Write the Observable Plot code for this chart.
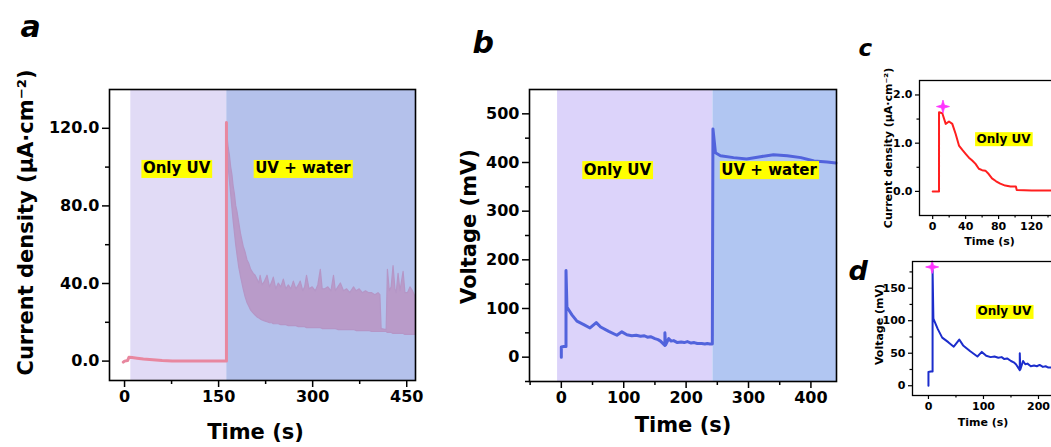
<!DOCTYPE html>
<html><head><meta charset="utf-8">
<script src="https://cdn.jsdelivr.net/npm/d3@7"></script>
<script src="https://cdn.jsdelivr.net/npm/@observablehq/plot@0.6"></script>
<style>
html,body{margin:0;padding:0;background:#fff;overflow:hidden;}
#fig{position:relative;width:1051px;height:447px;overflow:hidden;}
#fig svg{position:absolute;left:0;top:0;}
</style></head><body><div id="fig"></div>
<script>
// ---------- Panel a: current density (µA·cm⁻²) ----------
const aLineTime = [-2, 0, 5, 7, 12, 20, 30, 45, 60, 76, 100, 130, 162.5, 162.5];
const aLineVal  = [-0.5, 0, 0.3, 2.0, 1.8, 1.5, 1.1, 0.7, 0.3, 0, 0, 0, 0, 123];
const aBandTime = [162.5,164,166,168,170,172,174,176,178,180,183,186,190,193,196,199,202,206,209,212,215,217,220,224,228,232,236,238,242,246,250,254,258,262,266,270,274,278,281,285,288,291,295,300,305,309,313,316,320,325,330,334,337,341,345,350,355,360,366,370,375,380,385,390,395,400,405,408,410,418,420,423,426,429,432,434,437,440,445,448,452,456,460,464];
const aBandHigh = [123,116,110,106,100,96,90,86,80,77,71,65,59,56,52,50,47,45,44,42,40,44,39,41,44,38,41,43,37,40,38,42,37,39,37,41,37,39,41,36,38,44,37,38,36,39,47,37,37,38,36,44,36,38,40,36,37,35,38,36,37,35,36,35,35,34,35,34,16.5,16,47,36,38,49,37,35,45,36,46,35,35,38,36,33];
const aBandLow  = [118,108,100,93,86,79,72,66,60,55,48,43,37,33,30,28,26,24.5,23.5,22.5,22,21.5,21,20.5,20,19.5,19.5,19,19,19,18.5,18.5,18.5,18,18,18,18,17.5,17.5,17.5,17.5,17,17,17,17,17,17,16.5,16.5,16.5,16.5,16.5,16.5,16,16,16,16,16,16,15.5,15.5,15.5,15.5,15.5,15,15,15,15,15,15,14.5,14.5,14.5,14,14,14,14,14,14,13.5,13.5,13.5,13.5,13.5];
const aPhaseStart = [10, 163];
const aPhaseEnd   = [163, 464];
const aTagText = ["Only UV", "UV + water"];
const aTagTime = [83, 284.5];
const aTagVal  = [99.2, 99.2];
const aXTicks = [0, 150, 300, 450], aXMinor = [75, 225, 375];
const aYTicks = [0, 40, 80, 120],   aYMinor = [20, 60, 100];

// ---------- Panel b: voltage (mV) ----------
const bTime = [0,0,4,7.5,7.5,9,12,17,25,36,46,56,63,76,89,97,105,113,120,127,133,138,143,150,155,159,166,166,167,172,176,180,186,192,197,202,208,213,218,225,230,234,238,242,243,247,255,276,297,319,340,362,384,405,426,440];
const bVolt = [0,21,22,22,178,103,97,87,74,67,60,71,62,53,45,52,46,44,45,43,44,41,42,38,36,33,24,50,25,38,33,34,30,31,30,32,29,30,28,28,27,28,27,27,469,420,414,410,407,412,416,414,410,403,401,399];
const bPhaseStart = [-6, 243];
const bPhaseEnd   = [243, 441];
const bTagText = ["Only UV", "UV + water"];
const bTagTime = [90, 333];
const bTagVal  = [385, 385];
const bXTicks = [0, 100, 200, 300, 400], bXMinor = [-50, 50, 150, 250, 350];
const bYTicks = [0, 100, 200, 300, 400, 500], bYMinor = [-50, 50, 150, 250, 350, 450];

// ---------- Panel c: current density, only UV ----------
const cTime = [0,7.7,7.7,11.7,15.8,19.8,23.8,27.9,31.9,36,40,44,48,52,56,60,64,68,72,77,82,88,94.5,101,102,120,145];
const cVal  = [0,0,1.64,1.62,1.40,1.45,1.40,1.19,0.95,0.86,0.78,0.70,0.64,0.57,0.47,0.44,0.43,0.36,0.27,0.21,0.16,0.12,0.10,0.10,0.03,0.02,0.02];
const cStarTime = [12.5], cStarVal = [1.76];
const cTagText = ["Only UV"], cTagTime = [86], cTagVal = [1.09];
const cXTicks = [0, 40, 80, 120], cXMinor = [20, 60, 100, 140];
const cYTicks = [0, 1, 2], cYMinor = [0.5, 1.5];

// ---------- Panel d: voltage, only UV (same run as b) ----------
const dStarTime = [6.7], dStarVal = [182.6];
const dTagText = ["Only UV"], dTagTime = [138], dTagVal = [114];
const dXTicks = [0, 100, 200], dXMinor = [50, 150, 250];
const dYTicks = [0, 50, 100, 150], dYMinor = [25, 75, 125, 175];

// ---------- build ----------
const FONT = "DejaVu Sans";
const H = 447;
const zip = (ts, vs) => ts.map((t, i) => ({t, v: vs[i]}));
const tags = (s, ts, vs) => s.map((s, i) => ({s, t: ts[i], v: vs[i]}));
const phases = (a, b, cols) => a.map((x1, i) => ({x1, x2: b[i], c: cols[i]}));

const sparkle = {
  draw(ctx, size) {
    const r = Math.sqrt(size / Math.PI), w = r * 0.22;
    ctx.moveTo(0, -r); ctx.lineTo(w, -w); ctx.lineTo(r, 0); ctx.lineTo(w, w);
    ctx.lineTo(0, r); ctx.lineTo(-w, w); ctx.lineTo(-r, 0); ctx.lineTo(-w, -w); ctx.closePath();
  }
};

function axes(o) {
  return [
    Plot.axisX({ticks: o.xT, tickSize: o.ts, tickPadding: o.tp, tickFormat: o.xf || (d => String(d)), fontSize: o.fs, strokeWidth: o.sw, label: null}),
    Plot.axisX({ticks: o.xM, tickSize: o.ms, tickFormat: () => "", strokeWidth: o.sw, label: null}),
    Plot.axisY({ticks: o.yT, tickSize: o.ts, tickPadding: o.tp, tickFormat: o.yf || (d => String(d)), fontSize: o.fs, strokeWidth: o.sw, label: null}),
    Plot.axisY({ticks: o.yM, tickSize: o.ms, tickFormat: () => "", strokeWidth: o.sw, label: null})
  ];
}
function titles(o) {
  return [
    Plot.text([o.x], {frameAnchor: o.xAnchor || "bottom", text: d => d, dx: o.xdx, dy: o.xdy, fontSize: o.fs, textAnchor: "middle", lineAnchor: "middle"}),
    Plot.text([o.y], {frameAnchor: "left", text: d => d, rotate: -90, dx: o.ydx, dy: o.ydy, fontSize: o.fs, textAnchor: "middle", lineAnchor: "middle"}),
    Plot.text([o.letter], {frameAnchor: "top-left", text: d => d, dx: o.ldx, dy: o.ldy, fontSize: o.lfs, fontStyle: "italic", textAnchor: "start", lineAnchor: "middle"})
  ];
}
function tagMark(data, fs) {
  return Plot.text(data, {x: "t", y: "v", text: "s", fontSize: fs, textAnchor: "middle", lineAnchor: "middle", fill: "black"});
}
function panel(p) {
  const svg = Plot.plot({
    width: p.width, height: H,
    marginLeft: p.left, marginRight: p.width - p.right, marginTop: p.top, marginBottom: H - p.bottom,
    x: {domain: p.xd}, y: {domain: p.yd},
    style: {background: "transparent", maxWidth: "none", overflow: "visible", fontFamily: FONT, fontWeight: "bold", color: "black", fontSize: p.fs + "px"},
    marks: p.marks
  });
  document.getElementById("fig").append(svg);
}

// panel a
panel({
  width: 1051, left: 109, right: 415, top: 89, bottom: 380, xd: [-24, 464], yd: [-10, 140], fs: 16,
  marks: [
    Plot.rect(phases(aPhaseStart, aPhaseEnd, ["#e1dbf6", "#b4c1eb"]), {x1: "x1", x2: "x2", fill: "c"}),
    Plot.areaY(aBandTime.map((t, i) => ({t, lo: aBandLow[i], hi: aBandHigh[i]})), {x: "t", y1: "lo", y2: "hi", fill: "#b99bc9", stroke: "#b596c6", strokeWidth: 1.2}),
    Plot.line(zip(aLineTime, aLineVal), {x: "t", y: "v", stroke: "#e8879f", strokeWidth: 3}),
    tagMark(tags(aTagText, aTagTime, aTagVal), 15),
    ...axes({xT: aXTicks, xM: aXMinor, yT: aYTicks, yM: aYMinor, ts: 7, ms: 4, tp: 3, fs: 16, sw: 1.5, yf: d3.format(".1f")}),
    ...titles({x: "Time (s)", y: "Current density (μA·cm⁻²)", xdx: -7, xdy: 52, ydx: -83, ydy: -12.5, fs: 21, letter: "a", ldx: -89, ldy: -62, lfs: 30}),
    Plot.frame({stroke: "black", strokeWidth: 1.6})
  ]
});

// panel b
panel({
  width: 1051, left: 529, right: 836, top: 89, bottom: 381, xd: [-51, 441], yd: [-50, 550], fs: 16,
  marks: [
    Plot.rect(phases(bPhaseStart, bPhaseEnd, ["#dcd3fa", "#b1c6f2"]), {x1: "x1", x2: "x2", fill: "c"}),
    Plot.line(zip(bTime, bVolt), {x: "t", y: "v", stroke: "#5263dc", strokeWidth: 3}),
    tagMark(tags(bTagText, bTagTime, bTagVal), 15),
    ...axes({xT: bXTicks, xM: bXMinor, yT: bYTicks, yM: bYMinor, ts: 7, ms: 4, tp: 3, fs: 16, sw: 1.5}),
    ...titles({x: "Time (s)", y: "Voltage (mV)", xdx: 0, xdy: 44, ydx: -60, ydy: -9, fs: 21, letter: "b", ldx: -57, ldy: -46, lfs: 30}),
    Plot.frame({stroke: "black", strokeWidth: 1.6})
  ]
});

// panel c
panel({
  width: 1120, left: 919, right: 1064, top: 80, bottom: 215, xd: [-16, 160], yd: [-0.5, 2.3], fs: 11,
  marks: [
    Plot.line(zip(cTime, cVal), {x: "t", y: "v", stroke: "#ff1f1f", strokeWidth: 2}),
    Plot.dot(zip(cStarTime, cStarVal), {x: "t", y: "v", symbol: sparkle, r: 6.5, fill: "#ff33ff", stroke: "#ff33ff", strokeWidth: 0.8}),
    tagMark(tags(cTagText, cTagTime, cTagVal), 12),
    ...axes({xT: cXTicks, xM: cXMinor, yT: cYTicks, yM: cYMinor, ts: 4, ms: 2.5, tp: 3, fs: 11, sw: 1.2, yf: d3.format(".1f")}),
    ...titles({x: "Time (s)", xAnchor: "bottom-left", y: "Current density (μA·cm⁻²)", xdx: 70, xdy: 26, ydx: -31.5, ydy: 0, fs: 11, letter: "c", ldx: -61, ldy: -32, lfs: 23}),
    Plot.frame({stroke: "black", strokeWidth: 1.3})
  ]
});

// panel d
panel({
  width: 1120, left: 912, right: 1076.5, top: 261, bottom: 395, xd: [-29, 270], yd: [-15, 191], fs: 11,
  marks: [
    Plot.line(zip(bTime, bVolt).filter(d => d.t < 243), {x: "t", y: "v", stroke: "#1c2dcc", strokeWidth: 2}),
    Plot.dot(zip(dStarTime, dStarVal), {x: "t", y: "v", symbol: sparkle, r: 6.5, fill: "#ff33ff", stroke: "#ff33ff", strokeWidth: 0.8}),
    tagMark(tags(dTagText, dTagTime, dTagVal), 12),
    ...axes({xT: dXTicks, xM: dXMinor, yT: dYTicks, yM: dYMinor, ts: 4, ms: 2.5, tp: 3, fs: 11, sw: 1.2}),
    ...titles({x: "Time (s)", xAnchor: "bottom-left", y: "Voltage (mV)", xdx: 70.5, xdy: 26.7, ydx: -33.5, ydy: -4, fs: 11, letter: "d", ldx: -64, ldy: 10, lfs: 27}),
    Plot.frame({stroke: "black", strokeWidth: 1.3})
  ]
});

// yellow highlight behind the phase tags
const tagSet = new Set([...aTagText, ...bTagText, ...cTagText, ...dTagText]);
document.querySelectorAll("#fig text").forEach(t => {
  if (!tagSet.has(t.textContent)) return;
  const b = t.getBBox();
  const r = document.createElementNS("http://www.w3.org/2000/svg", "rect");
  r.setAttribute("x", b.x - 1.5); r.setAttribute("y", b.y + 0.5);
  r.setAttribute("width", b.width + 3); r.setAttribute("height", b.height);
  r.setAttribute("fill", "#ffff00");
  const tr = t.getAttribute("transform");
  if (tr) r.setAttribute("transform", tr);
  t.parentNode.insertBefore(r, t);
});
</script></body></html>
